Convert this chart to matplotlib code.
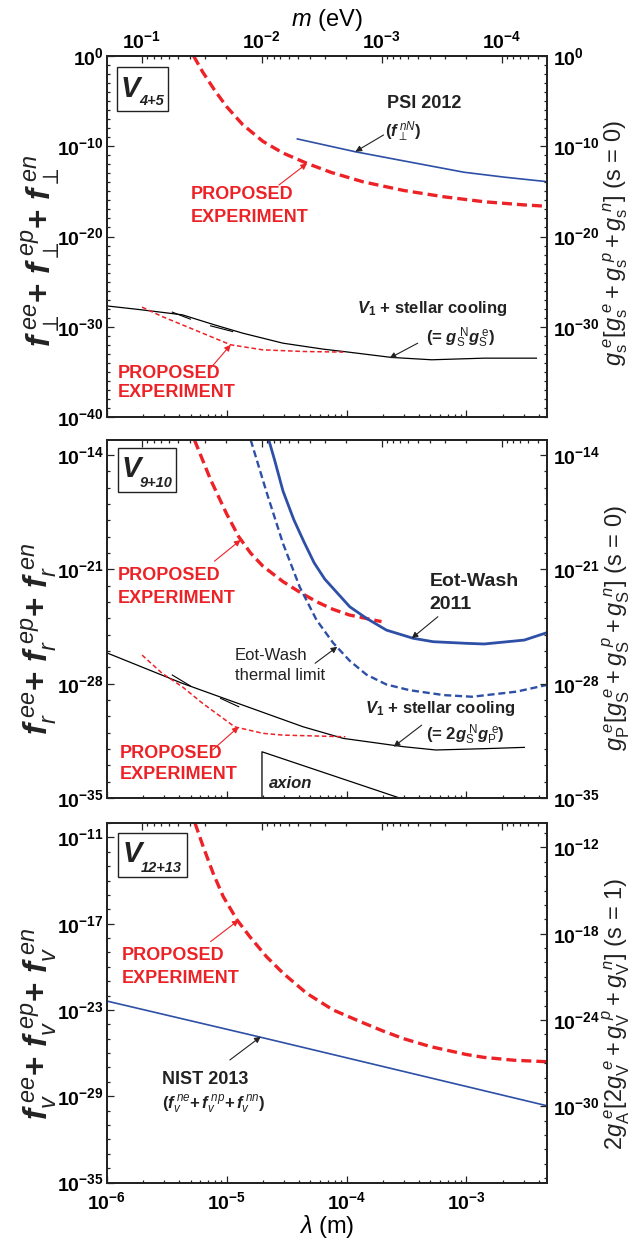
import numpy as np
import matplotlib.pyplot as plt
from matplotlib.ticker import FixedLocator, FuncFormatter, LogLocator, NullFormatter
from matplotlib.patches import Rectangle

plt.rcParams['font.family'] = ['Liberation Sans', 'DejaVu Sans']
plt.rcParams['mathtext.fontset'] = 'custom'
plt.rcParams['mathtext.rm'] = 'Liberation Sans'
plt.rcParams['mathtext.sf'] = 'Liberation Sans'
plt.rcParams['mathtext.it'] = 'Liberation Sans:italic'
plt.rcParams['mathtext.bf'] = 'Liberation Sans:bold'
plt.rcParams['mathtext.bfit'] = 'Liberation Sans:bold:italic'

RED = '#ED2227'
BLUE = '#2D4FA6'
INK = '#222222'

HBARC = 1.97e-7          # eV m, m = hbar c / lambda
LAM_MIN, LAM_MAX = 1e-6, 4.7e-3

# ---- data (log10 lambda [m], log10 f) -------------------------------------
# panel V4+5
p1_prop_lam = [-5.275, -5.201, -5.101, -5.0, -4.866, -4.698, -4.53, -4.329, -4.128,
               -3.859, -3.523, -3.188, -2.852, -2.517, -2.33]
p1_prop_f   = [0.0, -1.74, -3.77, -5.61, -7.6, -9.45, -10.75, -11.9, -12.9,
               -13.95, -14.9, -15.6, -16.15, -16.5, -16.65]
p1_psi_lam  = [-4.41, -3.93, -3.52, -3.02, -2.68, -2.33]
p1_psi_f    = [-9.19, -10.6, -11.63, -12.88, -13.43, -13.92]
p1_v1_lam   = [-6.0, -5.705, -5.369, -5.101, -4.866, -4.53, -4.195, -4.027, -3.624,
               -3.289, -2.852, -2.416]
p1_v1_f     = [-27.69, -28.13, -28.68, -29.79, -30.71, -31.82, -32.48, -32.74, -33.4,
               -33.66, -33.48, -33.48]
p1_prop2_lam = [-5.705, -5.537, -5.369, -5.201, -4.966, -4.698, -4.362, -4.027]
p1_prop2_f   = [-27.83, -28.87, -29.79, -30.71, -32.0, -32.56, -32.74, -32.81]
p1_kinks = [([-5.453, -5.302], [-28.38, -29.16]), ([-5.134, -4.95], [-29.9, -30.53])]

# panel V9+10
p2_prop_lam = [-5.268, -5.134, -5.0, -4.899, -4.8, -4.698, -4.53, -4.389, -4.25,
               -4.112, -3.973, -3.708]
p2_prop_f   = [-13.08, -15.5, -17.6, -19.0, -20.0, -20.8, -21.75, -22.4, -22.98,
               -23.45, -23.8, -24.2]
p2_therm_lam = [-4.799, -4.664, -4.53, -4.389, -4.25, -4.112, -3.973, -3.833, -3.667,
                -3.473, -3.188, -2.953, -2.584, -2.33]
p2_therm_f   = [-13.08, -16.34, -19.41, -22.1, -24.1, -25.5, -26.6, -27.45, -28.05,
                -28.4, -28.7, -28.8, -28.49, -28.08]
p2_ew_lam = [-4.648, -4.6, -4.53, -4.44, -4.356, -4.27, -4.181, -3.973, -3.833, -3.667,
             -3.445, -3.278, -3.0, -2.852, -2.517, -2.33]
p2_ew_f   = [-13.08, -14.3, -16.2, -17.95, -19.3, -20.6, -21.6, -23.29, -24.0, -24.72,
             -25.22, -25.43, -25.53, -25.57, -25.33, -24.88]
p2_v1_lam = [-5.99, -5.369, -4.866, -4.362, -4.027, -3.523, -3.255, -2.852, -2.517]
p2_v1_f   = [-26.14, -27.98, -29.31, -30.64, -31.35, -31.86, -32.06, -31.98, -31.9]
p2_prop2_lam = [-5.705, -5.537, -5.369, -5.201, -4.933, -4.698, -4.53, -4.01]
p2_prop2_f   = [-26.25, -27.37, -28.19, -29.2, -30.64, -31.04, -31.15, -31.25]
p2_kinks = [([-5.453, -5.302], [-27.47, -28.14]), ([-5.05, -4.899], [-28.90, -29.41])]
p2_axion_lam = [-4.705, -4.705, -3.557]
p2_axion_f   = [-35.0, -32.17, -35.0]

# panel V12+13
p3_prop_lam = [-5.264, -5.195, -5.112, -5.028, -4.912, -4.806, -4.667, -4.528, -4.333,
               -4.112, -3.889, -3.7, -3.523, -3.3, -3.0, -2.852, -2.6, -2.33]
p3_prop_f   = [-10.0, -11.65, -13.5, -15.12, -16.75, -17.91, -19.3, -20.45, -21.84,
               -23.0, -23.8, -24.45, -25.0, -25.55, -26.1, -26.3, -26.5, -26.6]
p3_nist_lam = [-6.0, -4.715, -2.32]
p3_nist_f   = [-22.38, -24.9, -29.68]

# axis ticks (exponents)
p1_left_ticks, p1_right_ticks = [0, -10, -20, -30, -40], [0, -10, -20, -30]
p2_left_ticks, p2_right_ticks = [-14, -21, -28, -35], [-14, -21, -28, -35]
p3_left_ticks, p3_right_ticks = [-11, -17, -23, -29, -35], [-12, -18, -24, -30]
lam_ticks = [-6, -5, -4, -3]
m_ticks = [-1, -2, -3, -4]


def P(a, b):
    return 10.0 ** np.asarray(a), 10.0 ** np.asarray(b)


pow_fmt = FuncFormatter(lambda v, p: r'$\mathbf{10^{%d}}$' % int(round(np.log10(v))))

W, H = 634, 1243
fig = plt.figure(figsize=(W / 100, H / 100), dpi=100)
AX_L, AX_R = 106.7, 547.0
panels_px = [(56, 417), (440, 798), (823, 1182.5)]

THICK = dict(color=RED, lw=2.4, dashes=(3.0, 1.5))
THIN = dict(color=RED, lw=1.1, dashes=(3, 1.8))


def make_axes(top, bottom):
    return fig.add_axes([AX_L / W, 1 - bottom / H, (AX_R - AX_L) / W, (bottom - top) / H])


def style(a):
    a.tick_params(which='both', direction='in', color=INK, width=0.9)
    a.tick_params(which='major', length=5)
    a.tick_params(which='minor', length=2.5)
    for s in a.spines.values():
        s.set_color(INK)
        s.set_linewidth(1.1)


def setup(ax, ylo, yhi, lticks, rticks, rscale, show_top, show_bottom):
    ax.set_xscale('log')
    ax.set_yscale('log')
    ax.set_xlim(LAM_MIN, LAM_MAX)
    ax.set_ylim(10.0 ** ylo, 10.0 ** yhi)
    ax.xaxis.set_major_locator(FixedLocator(10.0 ** np.array(lam_ticks)))
    ax.xaxis.set_minor_locator(LogLocator(base=10, subs=np.arange(2, 10), numticks=20))
    ax.xaxis.set_minor_formatter(NullFormatter())
    ax.yaxis.set_major_locator(FixedLocator(10.0 ** np.array(lticks)))
    ax.yaxis.set_minor_locator(FixedLocator(10.0 ** np.arange(int(np.ceil(ylo)), int(np.floor(yhi)) + 1)))
    ax.yaxis.set_minor_formatter(NullFormatter())
    ax.yaxis.set_major_formatter(pow_fmt)
    if show_bottom:
        ax.xaxis.set_major_formatter(pow_fmt)
    else:
        ax.xaxis.set_major_formatter(NullFormatter())
    style(ax)
    ax.tick_params(axis='y', which='major', labelsize=14, pad=2)
    ax.tick_params(axis='x', which='major', labelsize=14, pad=6)

    axr = ax.twinx()
    axr.set_yscale('log')
    axr.set_ylim(10.0 ** ylo * rscale, 10.0 ** yhi * rscale)
    axr.yaxis.set_major_locator(FixedLocator(10.0 ** np.array(rticks)))
    lo_r, hi_r = np.log10(10.0 ** ylo * rscale), np.log10(10.0 ** yhi * rscale)
    axr.yaxis.set_minor_locator(FixedLocator(10.0 ** np.arange(int(np.ceil(lo_r)), int(np.floor(hi_r)) + 1)))
    axr.yaxis.set_minor_formatter(NullFormatter())
    axr.yaxis.set_major_formatter(pow_fmt)
    style(axr)
    axr.tick_params(axis='y', which='major', labelsize=14, pad=4)

    axt = ax.twiny()
    axt.set_xscale('log')
    axt.set_xlim(HBARC / LAM_MIN, HBARC / LAM_MAX)
    axt.xaxis.set_major_locator(FixedLocator(10.0 ** np.array(m_ticks)))
    axt.xaxis.set_minor_locator(LogLocator(base=10, subs=np.arange(2, 10), numticks=20))
    axt.xaxis.set_minor_formatter(NullFormatter())
    if show_top:
        axt.xaxis.set_major_formatter(pow_fmt)
    else:
        axt.xaxis.set_major_formatter(NullFormatter())
    style(axt)
    axt.tick_params(axis='x', which='major', labelsize=14, pad=3)
    return axr, axt


def arrow(ax, tail, tip, color):
    ax.annotate('', xy=P(*tip), xytext=P(*tail),
                arrowprops=dict(arrowstyle='-|>', color=color, lw=0.8,
                                mutation_scale=9, shrinkA=0, shrinkB=0))


def vbox(box, vpos, vsub, subpos):
    x0, y0, x1, y1 = box
    fig.add_artist(Rectangle((x0 / W, 1 - y1 / H), (x1 - x0) / W, (y1 - y0) / H,
                             transform=fig.transFigure, fill=False, ec=INK, lw=1.0))
    fig.text(vpos[0] / W, 1 - vpos[1] / H, 'V', fontsize=21, fontweight='bold',
             style='italic', ha='left', va='baseline', color=INK)
    fig.text(subpos[0] / W, 1 - subpos[1] / H, vsub, fontsize=10.5, fontweight='bold',
             style='italic', ha='left', va='baseline', color=INK)


def red_label(ax, lam, f_top, f_bot):
    ax.text(*P(lam, f_top), 'PROPOSED', fontsize=13, color=RED, fontweight='bold', va='center')
    ax.text(*P(lam, f_bot), 'EXPERIMENT', fontsize=13, color=RED, fontweight='bold', va='center')


bold = dict(fontweight='bold', color=INK)

# ---------------- panel 1 : V4+5 ----------------
ax1 = make_axes(*panels_px[0])
ax1r, ax1t = setup(ax1, -40, 0, p1_left_ticks, p1_right_ticks, 1.0, True, False)
ax1t.set_xlabel(r'$m$ (eV)', fontsize=17, labelpad=3)

ax1.plot(*P(p1_prop_lam, p1_prop_f), **THICK)
ax1.plot(*P(p1_psi_lam, p1_psi_f), color=BLUE, lw=1.2)
ax1.plot(*P(p1_v1_lam, p1_v1_f), color='black', lw=0.9)
ax1.plot(*P(p1_prop2_lam, p1_prop2_f), **THIN)
for kx, ky in p1_kinks:
    ax1.plot(*P(kx, ky), color='black', lw=0.8)

ax1.text(*P(-3.356, -5.24), 'PSI 2012', fontsize=13, ha='center', va='center', **bold)
ax1.text(*P(-3.523, -8.38), r'($\mathbfit{f}_{\perp}^{\ \mathit{nN}}$)', fontsize=12,
         ha='center', va='center', **bold)
arrow(ax1, (-3.691, -8.75), (-3.926, -10.6), INK)
red_label(ax1, -5.302, -15.39, -17.95)
arrow(ax1, (-4.564, -14.3), (-4.329, -11.9), RED)
ax1.text(*P(-3.909, -27.94), r'$\mathbfit{V}_{\mathbf{1}}$ + stellar cooling', fontsize=12,
         va='center', **bold)
ax1.text(*P(-3.339, -31.27), r'(= $\mathbfit{g}_{\mathrm{S}}^{\ \mathrm{N}}\mathbfit{g}_{\mathrm{S}}^{\ \mathrm{e}}$)',
         fontsize=12, va='center', **bold)
arrow(ax1, (-3.406, -31.82), (-3.641, -33.48), INK)
red_label(ax1, -5.906, -35.14, -37.3)
arrow(ax1, (-5.134, -34.59), (-4.966, -32.0), RED)

ax1.text(-0.15, 0.46,
         r'$\mathbfit{f}_{\perp}^{\ \mathit{ee}}\mathbf{+}\ \mathbfit{f}_{\perp}^{\ \mathit{ep}}\mathbf{+}\ \mathbfit{f}_{\perp}^{\ \mathit{en}}$',
         transform=ax1.transAxes, rotation=90, ha='center', va='center', fontsize=24, color=INK)
ax1.text(1.157, 0.483,
         r'$g_{\mathrm{s}}^{\ e}[g_{\mathrm{s}}^{\ e}+g_{\mathrm{s}}^{\ p}+g_{\mathrm{s}}^{\ n}]$ (s = 0)',
         transform=ax1.transAxes, rotation=90, ha='center', va='center', fontsize=17, color=INK)
vbox((116.7, 66.7, 168.3, 111.0), (121.0, 96.7), '4+5', (139.0, 105.0))

# ---------------- panel 2 : V9+10 ----------------
ax2 = make_axes(*panels_px[1])
setup(ax2, -35, -13.08, p2_left_ticks, p2_right_ticks, 1.0, False, False)

ax2.plot(*P(p2_prop_lam, p2_prop_f), **THICK)
ax2.plot(*P(p2_therm_lam, p2_therm_f), color=BLUE, lw=1.7, dashes=(3.0, 1.6))
ax2.plot(*P(p2_ew_lam, p2_ew_f), color=BLUE, lw=2.0)
ax2.plot(*P(p2_v1_lam, p2_v1_f), color='black', lw=0.9)
ax2.plot(*P(p2_prop2_lam, p2_prop2_f), **THIN)
for kx, ky in p2_kinks:
    ax2.plot(*P(kx, ky), color='black', lw=0.8)
ax2.plot(*P(p2_axion_lam, p2_axion_f), color='black', lw=0.9, clip_on=False)

red_label(ax2, -5.906, -21.35, -22.77)
arrow(ax2, (-5.101, -20.5), (-4.883, -19.2), RED)
ax2.text(*P(-3.305, -21.76), 'Eot-Wash', fontsize=14, va='center', **bold)
ax2.text(*P(-3.305, -23.18), '2011', fontsize=14, va='center', **bold)
arrow(ax2, (-3.238, -23.9), (-3.456, -25.22), INK)
ax2.text(*P(-4.933, -26.25), 'Eot-Wash', fontsize=12, va='center', color=INK)
ax2.text(*P(-4.933, -27.47), 'thermal limit', fontsize=12, va='center', color=INK)
arrow(ax2, (-4.262, -26.75), (-4.077, -25.74), INK)
ax2.text(*P(-3.842, -29.51), r'$\mathbfit{V}_{\mathbf{1}}$ + stellar cooling', fontsize=12,
         va='center', **bold)
ax2.text(*P(-3.339, -31.15), r'(= 2$\mathbfit{g}_{\mathrm{S}}^{\ \mathrm{N}}\mathbfit{g}_{\mathrm{P}}^{\ \mathrm{e}}$)',
         fontsize=12, va='center', **bold)
arrow(ax2, (-3.373, -30.54), (-3.607, -31.86), INK)
red_label(ax2, -5.889, -32.26, -33.55)
arrow(ax2, (-5.117, -32.06), (-4.899, -30.64), RED)
ax2.text(*P(-4.648, -34.1), 'axion', fontsize=12, fontweight='bold', style='italic',
         va='center', color=INK)

ax2.text(-0.15, 0.444,
         r'$\mathbfit{f}_{\mathit{r}}^{\ \mathit{ee}}\mathbf{+}\ \mathbfit{f}_{\mathit{r}}^{\ \mathit{ep}}\mathbf{+}\ \mathbfit{f}_{\mathit{r}}^{\ \mathit{en}}$',
         transform=ax2.transAxes, rotation=90, ha='center', va='center', fontsize=24, color=INK)
ax2.text(1.157, 0.475,
         r'$g_{\mathrm{P}}^{\ e}[g_{\mathrm{S}}^{\ e}+g_{\mathrm{S}}^{\ p}+g_{\mathrm{S}}^{\ n}]$ (s = 0)',
         transform=ax2.transAxes, rotation=90, ha='center', va='center', fontsize=17, color=INK)
vbox((117.6, 448.3, 176.4, 491.7), (122.0, 477.0), '9+10', (140.0, 487.0))

# ---------------- panel 3 : V12+13 ----------------
ax3 = make_axes(*panels_px[2])
setup(ax3, -35, -10, p3_left_ticks, p3_right_ticks, 0.5, False, True)
ax3.set_xlabel(r'$\mathit{\lambda}$ (m)', fontsize=17, labelpad=0)

ax3.plot(*P(p3_prop_lam, p3_prop_f), **THICK)
ax3.plot(*P(p3_nist_lam, p3_nist_f), color=BLUE, lw=1.2)

red_label(ax3, -5.872, -19.18, -20.8)
arrow(ax3, (-5.134, -18.25), (-4.899, -16.75), RED)
ax3.text(*P(-5.537, -27.87), 'NIST 2013', fontsize=13, va='center', **bold)
ax3.text(*P(-5.537, -29.6),
         r'($\mathbfit{f}_{\mathit{v}}^{\ \mathit{ne}}\mathbf{+}\,\mathbfit{f}_{\mathit{v}}^{\ \mathit{np}}\mathbf{+}\,\mathbfit{f}_{\mathit{v}}^{\ \mathit{nn}}$)',
         fontsize=12, va='center', **bold)
arrow(ax3, (-4.973, -26.48), (-4.715, -24.86), INK)

ax3.text(-0.15, 0.44,
         r'$\mathbfit{f}_{\mathit{v}}^{\ \mathit{ee}}\mathbf{+}\ \mathbfit{f}_{\mathit{v}}^{\ \mathit{ep}}\mathbf{+}\ \mathbfit{f}_{\mathit{v}}^{\ \mathit{en}}$',
         transform=ax3.transAxes, rotation=90, ha='center', va='center', fontsize=24, color=INK)
ax3.text(1.157, 0.47,
         r'$2g_{\mathrm{A}}^{\ e}[2g_{\mathrm{V}}^{\ e}+g_{\mathrm{V}}^{\ p}+g_{\mathrm{V}}^{\ n}]$ (s = 1)',
         transform=ax3.transAxes, rotation=90, ha='center', va='center', fontsize=17, color=INK)
vbox((118.0, 833.3, 186.5, 877.3), (123.0, 862.0), '12+13', (141.0, 872.0))

fig.savefig('out.png', dpi=100)
